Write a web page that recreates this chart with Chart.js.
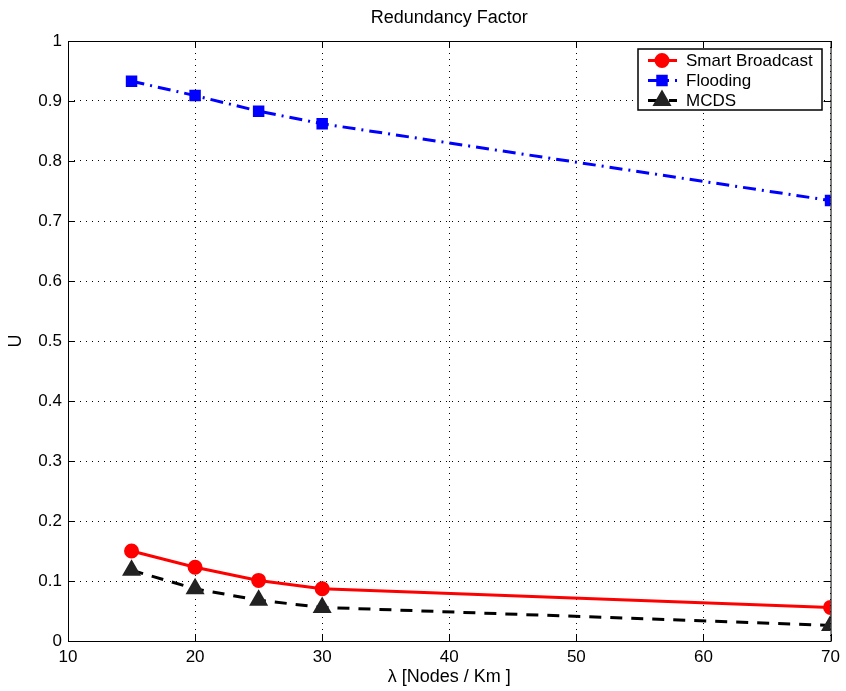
<!DOCTYPE html>
<html>
<head>
<meta charset="utf-8">
<script src="https://cdn.jsdelivr.net/npm/chart.js@4/dist/chart.umd.min.js"></script>
<style>
  html, body { margin: 0; padding: 0; background: #fff; }
  #wrap { width: 846px; height: 691px; }
</style>
</head>
<body>
<div id="wrap"><canvas id="myChart" width="846" height="691"></canvas></div>
<script>
const density = [15, 20, 25, 30, 70];
const smartBroadcast = [0.150, 0.123, 0.101, 0.087, 0.056];
const flooding = [0.933, 0.909, 0.883, 0.862, 0.734];
const mcds = [0.118, 0.087, 0.068, 0.056, 0.026];
const xTicks = [10, 20, 30, 40, 50, 60, 70];
const yTicks = [0, 0.1, 0.2, 0.3, 0.4, 0.5, 0.6, 0.7, 0.8, 0.9, 1];

const FONT = "'Liberation Sans', Arial, sans-serif";
Chart.defaults.font.family = FONT;
Chart.defaults.font.size = 17;
Chart.defaults.color = "#000";

const pts = (ys) => density.map((x, i) => ({ x: x, y: ys[i] }));

// box, inward ticks, title and legend in matlab style
const matlabFrame = {
  id: "matlabFrame",
  afterDraw(chart) {
    const { ctx, chartArea: a, scales } = chart;
    ctx.save();
    ctx.strokeStyle = "#000";
    ctx.lineWidth = 1;
    ctx.strokeRect(a.left + 0.5, a.top + 0.5, a.right - a.left, a.bottom - a.top);
    ctx.beginPath();
    xTicks.forEach(v => {
      const px = Math.round(scales.x.getPixelForValue(v)) + 0.5;
      ctx.moveTo(px, a.bottom); ctx.lineTo(px, a.bottom - 7);
      ctx.moveTo(px, a.top); ctx.lineTo(px, a.top + 7);
    });
    yTicks.forEach(v => {
      const py = Math.round(scales.y.getPixelForValue(v)) + 0.5;
      ctx.moveTo(a.left, py); ctx.lineTo(a.left + 7, py);
      ctx.moveTo(a.right, py); ctx.lineTo(a.right - 7, py);
    });
    ctx.stroke();

    // title
    ctx.fillStyle = "#000";
    ctx.font = "18px " + FONT;
    ctx.textAlign = "center";
    ctx.textBaseline = "middle";
    ctx.fillText("Redundancy Factor", (a.left + a.right) / 2, 18);

    // legend
    const lx = 638, ly = 49, lw = 184, lh = 61;
    ctx.fillStyle = "#fff";
    ctx.fillRect(lx, ly, lw, lh);
    ctx.lineWidth = 1.5;
    ctx.strokeStyle = "#000";
    ctx.strokeRect(lx, ly, lw, lh);
    ctx.font = "17px " + FONT;
    ctx.textAlign = "left";
    chart.data.datasets.forEach((ds, i) => {
      const cy = ly + 11.5 + i * 20;
      ctx.save();
      ctx.strokeStyle = ds.borderColor;
      ctx.lineWidth = ds.borderWidth;
      ctx.setLineDash(ds.borderDash || []);
      ctx.beginPath();
      ctx.moveTo(lx + 10, cy); ctx.lineTo(lx + 39, cy);
      ctx.stroke();
      ctx.setLineDash([]);
      ctx.fillStyle = ds.pointBackgroundColor;
      ctx.strokeStyle = ds.pointBorderColor;
      Chart.helpers.drawPoint(ctx, {
        pointStyle: ds.pointStyle, radius: ds.pointRadius, borderWidth: 1
      }, lx + 24, cy);
      ctx.restore();
      ctx.fillStyle = "#000";
      ctx.fillText(ds.label, lx + 48, cy + 1);
    });
    ctx.restore();
  },
};

new Chart(document.getElementById("myChart").getContext("2d"), {
  type: "line",
  data: {
    datasets: [
      {
        label: "Smart Broadcast",
        data: pts(smartBroadcast),
        borderColor: "#ff0000",
        backgroundColor: "#ff0000",
        borderWidth: 3,
        pointStyle: "circle",
        pointRadius: 6,
        pointBorderColor: "#ff0000",
        pointBackgroundColor: "#ff0000",
        tension: 0,
      },
      {
        label: "Flooding",
        data: pts(flooding),
        borderColor: "#0000ff",
        backgroundColor: "#0000ff",
        borderWidth: 3,
        borderDash: [13, 6, 2, 6],
        pointStyle: "rect",
        pointRadius: 6,
        pointBorderColor: "#0000ff",
        pointBackgroundColor: "#0000ff",
        tension: 0,
      },
      {
        label: "MCDS",
        data: pts(mcds),
        borderColor: "#000000",
        backgroundColor: "#222222",
        borderWidth: 3,
        borderDash: [12, 9],
        pointStyle: "triangle",
        pointRadius: 8,
        pointBorderColor: "#222222",
        pointBackgroundColor: "#222222",
        tension: 0,
      },
    ],
  },
  options: {
    responsive: false,
    animation: false,
    layout: { padding: { top: 41, right: 15, left: 0, bottom: 0 } },
    plugins: {
      legend: { display: false },
      title: { display: false },
      tooltip: { enabled: false },
    },
    scales: {
      x: {
        type: "linear",
        min: 10,
        max: 70,
        afterBuildTicks: (s) => { s.ticks = xTicks.map(v => ({ value: v })); },
        afterFit: (s) => { s.height = 50; },
        grid: { color: "#000", drawTicks: false, lineWidth: 1 },
        border: { display: false, dash: [1, 5] },
        ticks: { padding: 6, font: { size: 17 } },
        title: { display: true, text: "λ [Nodes / Km ]", font: { size: 18 }, padding: { top: 0, bottom: 3 } },
      },
      y: {
        min: 0,
        max: 1,
        afterBuildTicks: (s) => { s.ticks = yTicks.map(v => ({ value: v })); },
        afterFit: (s) => { s.width = 68; },
        grid: { color: "#000", drawTicks: false, lineWidth: 1 },
        border: { display: false, dash: [1, 5] },
        ticks: { padding: 6, font: { size: 17 }, callback: (v) => String(Math.round(v * 10) / 10) },
        title: { display: true, text: "U", font: { size: 18 }, padding: { top: 5, bottom: 0 } },
      },
    },
  },
  plugins: [matlabFrame],
});
</script>
</body>
</html>
